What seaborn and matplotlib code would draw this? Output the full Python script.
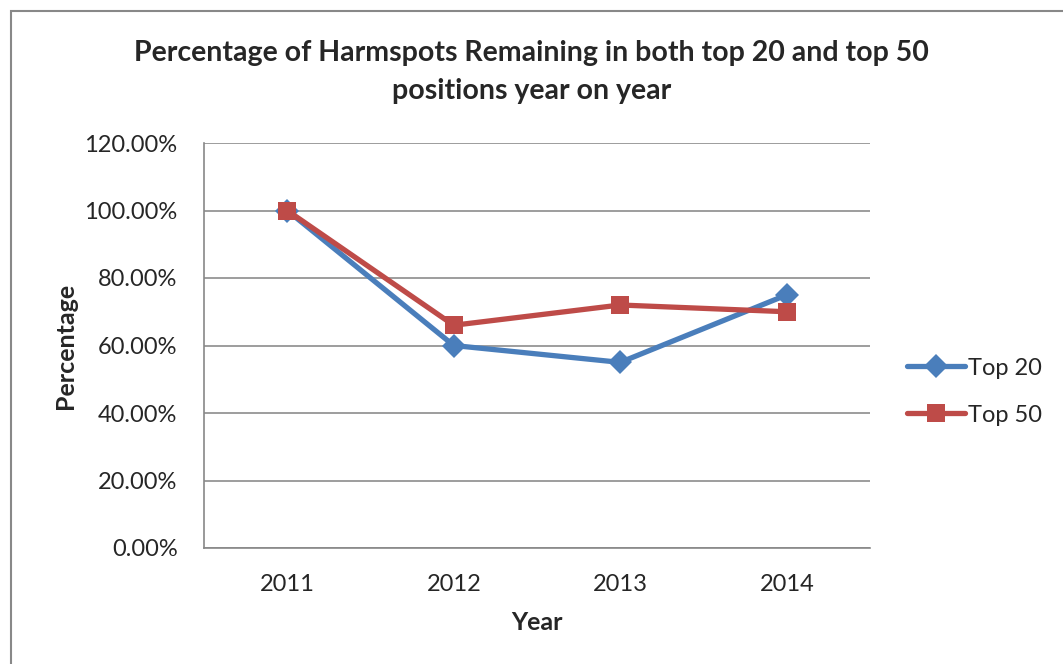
import matplotlib
matplotlib.use("Agg")
import matplotlib.pyplot as plt
import seaborn as sns
import pandas as pd
import numpy as np
from matplotlib.patches import Rectangle
from matplotlib.ticker import FixedLocator, PercentFormatter

years = ["2011", "2012", "2013", "2014"]
top20 = [100, 60, 55, 75]
top50 = [100, 66, 72, 70]
series_names = ["Top 20", "Top 50"]
yticks = [0, 20, 40, 60, 80, 100, 120]

df = pd.DataFrame({
    "Year": years * 2,
    "pos": list(range(len(years))) * 2,
    "Percentage": top20 + top50,
    "Series": [series_names[0]] * len(years) + [series_names[1]] * len(years),
})

sns.set_theme(style="white")
plt.rcParams["font.family"] = ["Lato", "DejaVu Sans"]

fig = plt.figure(figsize=(10.63, 6.64), dpi=100)
ax = fig.add_axes([204 / 1063, 1 - 548 / 664, (870 - 204) / 1063, (548 - 143) / 664])

palette = {"Top 20": "#4A7EBB", "Top 50": "#BE4B48"}
markers = {"Top 20": "D", "Top 50": "s"}
sns.lineplot(data=df, x="pos", y="Percentage", hue="Series", style="Series",
             palette=palette, markers=markers, dashes=False, linewidth=3.8,
             markersize=12.5, markeredgewidth=0, ax=ax, legend=True)

ax.set_xlim(-0.5, len(years) - 0.5)
ax.set_ylim(0, 120)
ax.set_xticks(range(len(years)))
ax.set_xticklabels(years, fontsize=17)
ax.xaxis.set_minor_locator(FixedLocator(np.arange(-0.5, len(years), 1.0)))
ax.tick_params(axis="x", which="major", length=0, pad=19)
ax.tick_params(axis="x", which="minor", length=5, width=1.2, color="#888888", direction="out")
ax.set_yticks(yticks)
ax.yaxis.set_major_formatter(PercentFormatter(decimals=2))
ax.tick_params(axis="y", which="major", length=5, width=1.2, color="#888888", direction="out", labelsize=17, pad=14)
ax.grid(axis="y", color="#8c8c8c", linewidth=1.2)
ax.set_axisbelow(True)
for s in ["top", "right"]:
    ax.spines[s].set_visible(False)
for s in ["left", "bottom"]:
    ax.spines[s].set_color("#888888")
    ax.spines[s].set_linewidth(1.2)

ax.set_xlabel("Year", fontsize=18, fontweight="bold", labelpad=11)
ax.set_ylabel("Percentage", fontsize=18, fontweight="bold", labelpad=5)

ax.legend(title=None, frameon=False, fontsize=17, loc="center left",
          bbox_to_anchor=((907 - 204) / 666, 0.386), borderaxespad=0, borderpad=0,
          handlelength=2.45, labelspacing=1.1, handletextpad=0.15, markerscale=1.0)

fig.text(0.5, 1 - 72 / 664, "Percentage of Harmspots Remaining in both top 20 and top 50\npositions year on year",
         ha="center", va="center", fontsize=20.5, fontweight="bold", linespacing=1.6)

fig.patches.append(Rectangle((11 / 1063, -0.1), 1.2, 1 - 11 / 664 + 0.1,
                             transform=fig.transFigure, fill=False,
                             edgecolor="#888888", linewidth=1.5))

fig.savefig("out.png", dpi=100, facecolor="white")
